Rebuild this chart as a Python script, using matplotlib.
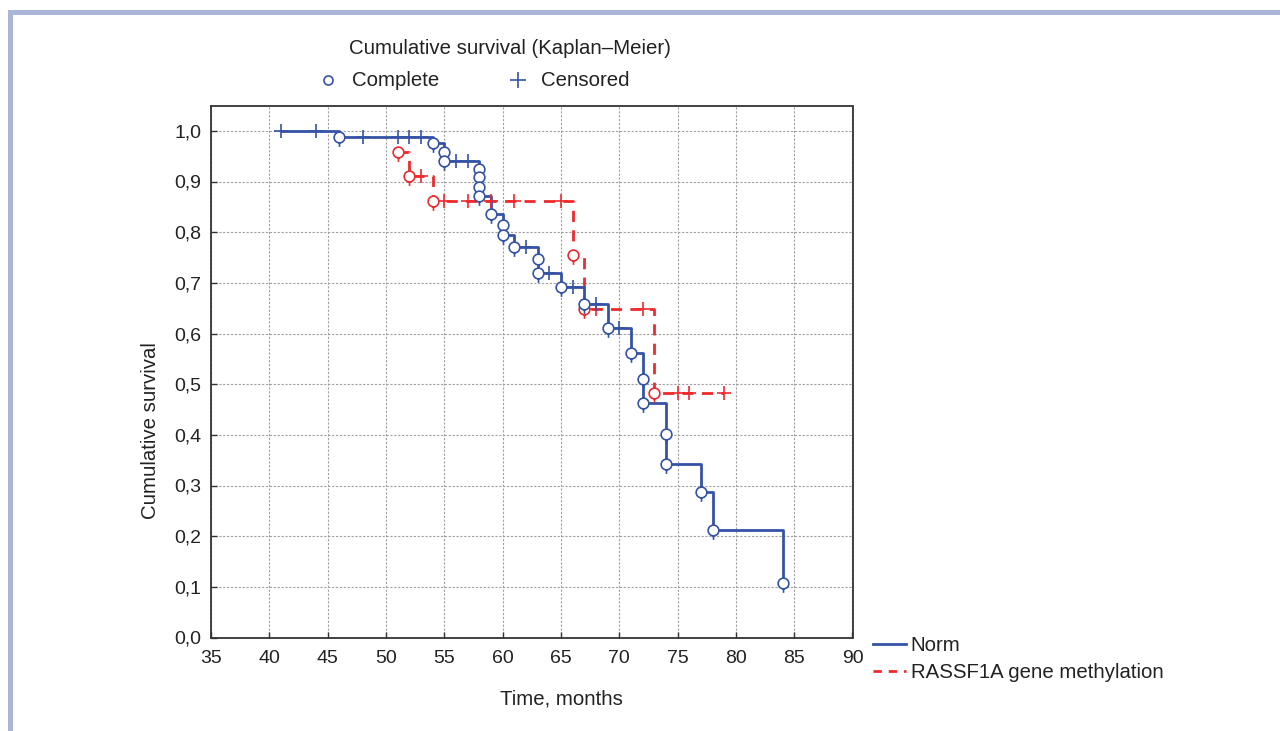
import numpy as np
import matplotlib
matplotlib.use("Agg")
import matplotlib.pyplot as plt
from matplotlib.path import Path
from matplotlib.lines import Line2D
from matplotlib.patches import Rectangle
from matplotlib.ticker import FuncFormatter

# Kaplan-Meier data: time (months), survival after the time, 1=complete / 0=censored
norm_time = [41, 44, 46, 48, 51, 52, 53, 54, 55, 55, 56, 57, 58, 58, 58, 58, 59, 60, 60,
             61, 62, 63, 63, 64, 65, 66, 67, 68, 69, 70, 71, 72, 72, 74, 74, 77, 78, 84]
norm_surv = [1.0, 1.0, 0.988, 0.988, 0.988, 0.988, 0.988, 0.976, 0.959, 0.941, 0.941, 0.941,
             0.925, 0.908, 0.890, 0.872, 0.835, 0.814, 0.794, 0.771, 0.771, 0.748, 0.720,
             0.720, 0.691, 0.691, 0.658, 0.658, 0.610, 0.610, 0.561, 0.511, 0.462, 0.401,
             0.343, 0.287, 0.213, 0.107]
norm_event = [0, 0, 1, 0, 0, 0, 0, 1, 1, 1, 0, 0, 1, 1, 1, 1, 1, 1, 1,
              1, 0, 1, 1, 0, 1, 0, 1, 0, 1, 0, 1, 1, 1, 1, 1, 1, 1, 1]

meth_time = [51, 52, 53, 54, 55, 57, 59, 61, 65, 66, 67, 68, 72, 73, 75, 76, 79]
meth_surv = [0.958, 0.911, 0.911, 0.862, 0.862, 0.862, 0.862, 0.862, 0.862, 0.754, 0.648,
             0.648, 0.648, 0.483, 0.483, 0.483, 0.483]
meth_event = [1, 1, 0, 1, 0, 0, 0, 0, 0, 1, 1, 0, 0, 1, 0, 0, 0]

series_labels = ["Norm", "RASSF1A gene methylation"]
x_ticks = list(range(35, 95, 5))
y_ticks = [i / 10 for i in range(11)]

BLUE = "#3553a6"
RED = "#ee2a2e"
TXT = "#222222"

plt.rcParams["font.family"] = ["Liberation Sans", "DejaVu Sans"]
plt.rcParams["font.size"] = 14.7

# open circle with a short tail below it (as STATISTICA draws the "complete" points)
circ = Path.unit_circle()
tail_verts = np.vstack([circ.vertices, [[0, -1.0], [0, -1.75]]])
tail_codes = np.concatenate([circ.codes, [Path.MOVETO, Path.LINETO]])
circle_tail = Path(tail_verts, tail_codes)

fig = plt.figure(figsize=(12.8, 7.31), dpi=100)

# light frame at top and left
fig.add_artist(Rectangle((8 / 1280, 0), 5 / 1280, 1 - 10 / 731, transform=fig.transFigure,
                         color="#a9b6d8", lw=0))
fig.add_artist(Rectangle((8 / 1280, 1 - 15 / 731), 1, 5 / 731, transform=fig.transFigure,
                         color="#a9b6d8", lw=0))

ax = fig.add_axes([211 / 1280, 1 - 637.5 / 731, 641.5 / 1280, 532 / 731])


def draw_km(t, s, ev, color, ls):
    t = np.array(t)
    s = np.array(s)
    ev = np.array(ev, dtype=bool)
    ax.step(t, s, where="post", color=color, lw=2.0, ls=ls, zorder=3,
            dashes=(4, 3) if ls == "--" else (None, None))
    ax.plot(t[~ev], s[~ev], ls="none", marker="+", ms=10.5, mew=1.2, color=color, zorder=4)
    ax.plot(t[ev], s[ev], ls="none", marker=circle_tail, ms=13.5, mew=1.2, mec=color,
            mfc="white", zorder=5)


draw_km(meth_time, meth_surv, meth_event, RED, "--")
draw_km(norm_time, norm_surv, norm_event, BLUE, "-")

ax.set_xlim(35, 90)
ax.set_ylim(0, 1.05)
ax.set_xticks(x_ticks)
ax.set_yticks(y_ticks)
ax.yaxis.set_major_formatter(FuncFormatter(lambda v, p: f"{v:.1f}".replace(".", ",")))
ax.grid(True, color="#a0a0a0", ls=(0, (2, 1.5)), lw=0.8)
ax.set_axisbelow(True)
ax.tick_params(direction="in", length=4, width=1, colors="#333333", labelcolor=TXT,
               labelsize=14)
ax.tick_params(axis="x", pad=9)
ax.tick_params(axis="y", pad=7)
for sp in ax.spines.values():
    sp.set_color("#333333")
    sp.set_linewidth(1.3)

fig.text(150 / 1280, 1 - 431 / 731, "Cumulative survival", rotation=90, ha="center",
         va="center", color=TXT)
fig.text(561 / 1280, 1 - 699 / 731, "Time, months", ha="center", va="center", color=TXT)

# top legend
fig.text(510 / 1280, 1 - 49 / 731, "Cumulative survival (Kaplan\u2013Meier)", ha="center",
         va="center", color=TXT)
fig.add_artist(Line2D([328 / 1280], [1 - 80 / 731], transform=fig.transFigure, ls="none",
                      marker="o", ms=6.5, mew=1.2, mec=BLUE, mfc="white"))
fig.text(352 / 1280, 1 - 81 / 731, "Complete", ha="left", va="center", color=TXT)
fig.add_artist(Line2D([518 / 1280], [1 - 80 / 731], transform=fig.transFigure, ls="none",
                      marker="+", ms=11, mew=1.2, color=BLUE))
fig.text(541 / 1280, 1 - 81 / 731, "Censored", ha="left", va="center", color=TXT)

# series legend
handles = [Line2D([], [], color=BLUE, lw=2),
           Line2D([], [], color=RED, lw=2, ls="--", dashes=(3, 2.5))]
fig.legend(handles, series_labels, loc="upper left",
           bbox_to_anchor=(873 / 1280, 1 - 636 / 731), frameon=False,
           handlelength=1.6, handletextpad=0.25, labelspacing=0.4, borderaxespad=0,
           borderpad=0, labelcolor=TXT)

fig.savefig("out.png", dpi=100)
